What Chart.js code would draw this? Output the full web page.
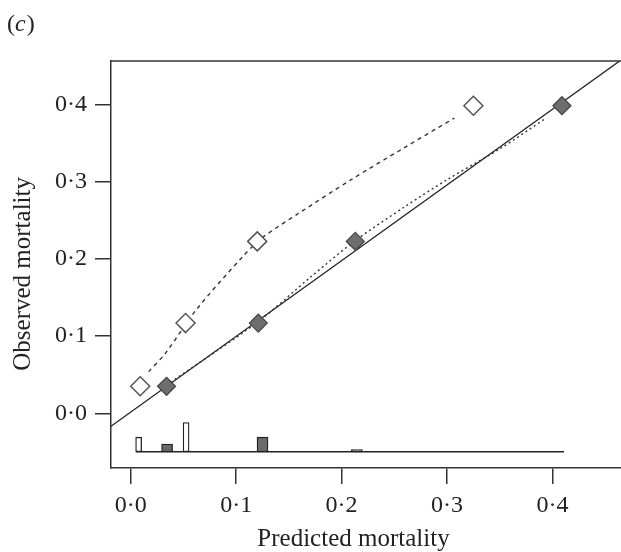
<!DOCTYPE html>
<html>
<head>
<meta charset="utf-8">
<script src="https://cdn.jsdelivr.net/npm/chart.js@4.4.0/dist/chart.umd.min.js"></script>
<style>
  body { margin: 0; background: #fff; }
  canvas { display: block; }
</style>
</head>
<body>
<canvas id="chart" width="621" height="552"></canvas>
<script>
// calibration plot, panel (c)

const xTicks = [0, 0.1, 0.2, 0.3, 0.4];
const yTicks = [0, 0.1, 0.2, 0.3, 0.4];

// grouped observed vs predicted
const openPred = [0.009, 0.052, 0.120, 0.325];
const openObs = [0.035, 0.117, 0.223, 0.399];
const fillPred = [0.034, 0.121, 0.213, 0.409];
const fillObs = [0.035, 0.117, 0.223, 0.399];

// smoothed curves
const openSmoothX = [0.017, 0.033, 0.062, 0.106, 0.125, 0.160, 0.209, 0.260, 0.307];
const openSmoothY = [0.054, 0.078, 0.134, 0.203, 0.228, 0.260, 0.303, 0.345, 0.383];
const fillSmoothX = [0.030, 0.121, 0.170, 0.213, 0.260, 0.300, 0.350, 0.394];
const fillSmoothY = [0.033, 0.119, 0.176, 0.224, 0.268, 0.303, 0.343, 0.383];

// fitted line
const fitX = [-0.03, 0.48];
const fitY = [-0.028, 0.473];

// distribution of predictions (spike histogram under the plot)
const histBase = -0.05;
const histSpan = [0.005, 0.411];
const openHistX = [0.0075, 0.0525];
const openHistTop = [-0.031, -0.012];
const fillHistX = [0.0345, 0.125, 0.2145];
const fillHistTop = [-0.040, -0.031, -0.047];

const zip = (xs, ys) => xs.map((x, i) => ({ x, y: ys[i] }));
const fmt = v => v.toFixed(1).replace('.', '\u00B7');
const serif = '"Liberation Serif", "DejaVu Serif", serif';

const framePlugin = {
  id: 'frame',
  afterDraw(chart) {
    const { ctx, chartArea } = chart;
    ctx.save();
    ctx.strokeStyle = '#333';
    ctx.lineWidth = 1.5;
    ctx.beginPath();
    ctx.moveTo(chartArea.left, chartArea.top);
    ctx.lineTo(chartArea.right, chartArea.top);
    ctx.stroke();

    // panel label "(c)"
    ctx.fillStyle = '#222';
    ctx.textBaseline = 'alphabetic';
    ctx.font = '24px ' + serif;
    let x = 7;
    const y = 31;
    ctx.fillText('(', x, y);
    x += ctx.measureText('(').width;
    ctx.font = 'italic 24px ' + serif;
    ctx.fillText('c', x, y);
    x += ctx.measureText('c').width + 1;
    ctx.font = '24px ' + serif;
    ctx.fillText(')', x, y);
    ctx.restore();
  }
};

function noPad(s) {
  s.paddingLeft = 0;
  s.paddingRight = 0;
  s.paddingTop = 0;
  s.paddingBottom = 0;
}

new Chart(document.getElementById('chart'), {
  type: 'scatter',
  data: {
    datasets: [
      {
        type: 'scatter',
        data: zip(fillPred, fillObs),
        pointStyle: 'rectRot',
        pointRadius: 9,
        backgroundColor: '#6e6e6e',
        borderColor: '#444',
        borderWidth: 1.2
      },
      {
        type: 'scatter',
        data: zip(openPred, openObs),
        pointStyle: 'rectRot',
        pointRadius: 9.5,
        backgroundColor: '#fff',
        borderColor: '#555',
        borderWidth: 1.5
      },
      {
        type: 'line',
        data: zip(openSmoothX, openSmoothY),
        borderColor: '#333',
        borderWidth: 1.4,
        borderDash: [4, 4],
        pointRadius: 0,
        tension: 0.3
      },
      {
        type: 'line',
        data: zip(fillSmoothX, fillSmoothY),
        borderColor: '#333',
        borderWidth: 1.4,
        borderDash: [2, 3],
        pointRadius: 0,
        tension: 0.3
      },
      {
        type: 'line',
        data: zip(fitX, fitY),
        borderColor: '#222',
        borderWidth: 1.3,
        pointRadius: 0
      },
      {
        type: 'line',
        data: zip(histSpan, [histBase, histBase]),
        borderColor: '#222',
        borderWidth: 1.4,
        pointRadius: 0
      },
      {
        type: 'bar',
        data: openHistX.map((x, i) => ({ x, y: [histBase, openHistTop[i]] })),
        backgroundColor: '#fff',
        borderColor: '#222',
        borderWidth: 1.3,
        borderSkipped: false,
        grouped: false,
        barThickness: 6
      },
      {
        type: 'bar',
        data: fillHistX.map((x, i) => ({ x, y: [histBase, fillHistTop[i]] })),
        backgroundColor: '#6a6a6a',
        borderColor: '#222',
        borderWidth: 1.3,
        borderSkipped: false,
        grouped: false,
        barThickness: 11
      }
    ]
  },
  options: {
    responsive: false,
    animation: false,
    layout: { autoPadding: false, padding: { top: 61, right: 0, left: 0, bottom: 0 } },
    plugins: {
      legend: { display: false },
      tooltip: { enabled: false }
    },
    scales: {
      x: {
        type: 'linear',
        min: -0.0187,
        max: 0.465,
        offset: false,
        afterBuildTicks: s => { s.ticks = xTicks.map(v => ({ value: v })); },
        afterFit: s => { s.height = 84; noPad(s); },
        grid: { drawOnChartArea: false, drawTicks: true, tickLength: 16, color: '#333', lineWidth: 1.5, offset: false },
        border: { display: true, color: '#333', width: 1.5 },
        ticks: { callback: fmt, color: '#222', padding: 7, maxRotation: 0, font: { family: serif, size: 24 } },
        title: { display: true, text: 'Predicted mortality    ', color: '#222', padding: { top: 0, bottom: 0 }, font: { family: serif, size: 25, lineHeight: 1 } }
      },
      y: {
        type: 'linear',
        min: -0.071,
        max: 0.457,
        afterBuildTicks: s => { s.ticks = yTicks.map(v => ({ value: v })); },
        afterFit: s => { s.width = 111; noPad(s); },
        grid: { drawOnChartArea: false, drawTicks: true, tickLength: 16, color: '#333', lineWidth: 1.5 },
        border: { display: true, color: '#333', width: 1.5 },
        ticks: { callback: fmt, color: '#222', padding: 8, font: { family: serif, size: 24 } },
        title: { display: true, text: 'Observed mortality   ', color: '#222', padding: { top: 11, bottom: 0 }, font: { family: serif, size: 25, lineHeight: 1 } }
      }
    }
  },
  plugins: [framePlugin]
});
</script>
</body>
</html>
